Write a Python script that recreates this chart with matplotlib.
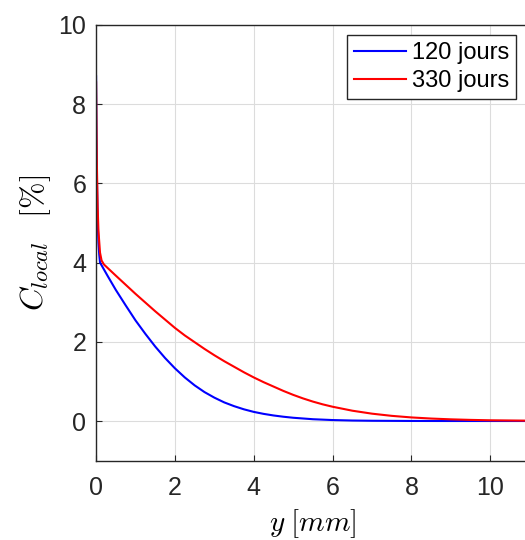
import matplotlib
matplotlib.use("Agg")
import matplotlib.pyplot as plt

plt.rcParams['font.family'] = ['Liberation Sans', 'DejaVu Sans']
plt.rcParams['mathtext.fontset'] = 'cm'

x_120 = [0.0, 0.01, 0.02, 0.04, 0.06, 0.08, 0.1, 0.3, 0.5, 0.75, 1.0, 1.25, 1.5, 1.75, 2.0, 2.25, 2.5,
         2.75, 3.0, 3.25, 3.5, 3.75, 4.0, 4.25, 4.5, 4.75, 5.0, 5.5, 6.0, 6.5, 7.0, 8.0, 9.0, 10.0, 11.0]
c_120 = [8.7, 7.2, 6.2, 5.1, 4.5, 4.2, 4.0, 3.65, 3.31, 2.92, 2.54, 2.2, 1.88, 1.59, 1.33, 1.1, 0.9,
         0.73, 0.59, 0.47, 0.375, 0.295, 0.23, 0.18, 0.14, 0.108, 0.082, 0.045, 0.024, 0.012, 0.006, 0.001, 0.0, 0.0, 0.0]

x_330 = [0.0, 0.01, 0.02, 0.04, 0.06, 0.1, 0.14, 0.2, 0.5, 0.75, 1.0, 1.25, 1.5, 1.75, 2.0, 2.25, 2.5,
         2.75, 3.0, 3.25, 3.5, 3.75, 4.0, 4.25, 4.5, 4.75, 5.0, 5.25, 5.5, 5.75, 6.0, 6.5, 7.0, 7.5, 8.0,
         8.5, 9.0, 9.5, 10.0, 11.0]
c_330 = [8.55, 7.4, 6.5, 5.4, 4.8, 4.25, 4.05, 3.95, 3.67, 3.44, 3.21, 2.99, 2.77, 2.56, 2.35, 2.16, 1.99,
         1.82, 1.66, 1.51, 1.37, 1.23, 1.1, 0.98, 0.87, 0.76, 0.66, 0.57, 0.49, 0.42, 0.36, 0.26, 0.185, 0.13, 0.09,
         0.062, 0.042, 0.028, 0.018, 0.008]

labels = ['120 jours', '330 jours']
colors = ['#0000ff', '#ff0000']

fig = plt.figure(figsize=(5.25, 5.4), dpi=100)
ax = fig.add_axes([0.183, 0.147, 0.826, 0.807])

ax.plot(x_120, c_120, color=colors[0], lw=1.5, label=labels[0])
ax.plot(x_330, c_330, color=colors[1], lw=1.5, label=labels[1])

ax.set_xlim(0, 11)
ax.set_ylim(-1, 10)
ax.set_xticks([0, 2, 4, 6, 8, 10])
ax.set_yticks([0, 2, 4, 6, 8, 10])
ax.grid(True, color='#dcdcdc', lw=0.8)
ax.set_axisbelow(True)
ax.tick_params(direction='in', length=4, labelsize=18, colors='#262626')
ax.tick_params(axis='x', pad=11)
ax.tick_params(axis='y', pad=7)
for s in ax.spines.values():
    s.set_color('#262626')
    s.set_linewidth(1.0)
ax.spines['right'].set_visible(False)

ax.set_xlabel(r'$y\;[mm]$', fontsize=21, labelpad=5)
ax.set_ylabel(r'$C_{local}\;\;\;[\%]$', fontsize=23, labelpad=4)

leg = ax.legend(loc='upper right', bbox_to_anchor=(516 / 525, 1 - 35 / 540),
                bbox_transform=fig.transFigure, fontsize=17,
                fancybox=False, edgecolor='#262626', framealpha=1,
                handlelength=2.2, handletextpad=0.25, borderpad=0.3, labelspacing=0.25,
                borderaxespad=0)
leg.get_frame().set_linewidth(1.0)

fig.savefig('out.png', dpi=100)
